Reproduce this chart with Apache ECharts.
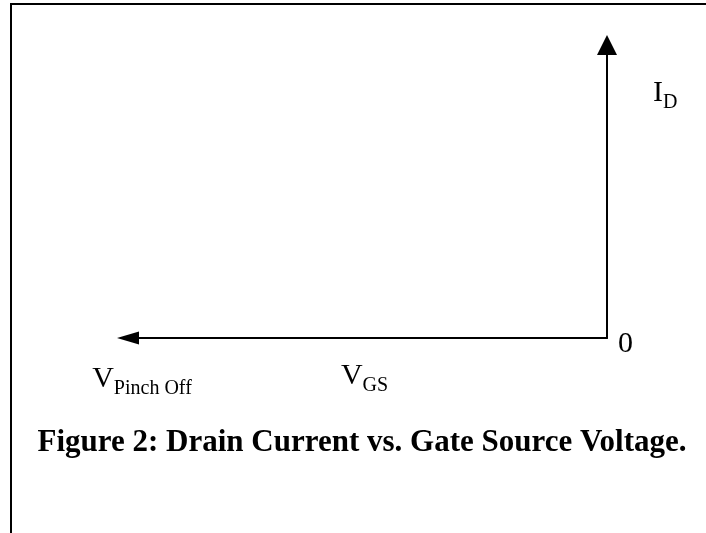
<!DOCTYPE html>
<html>
<head>
<meta charset="utf-8">
<script src="https://cdn.jsdelivr.net/npm/echarts@6/dist/echarts.min.js"></script>
<style>
  html, body { margin: 0; padding: 0; background: #fff; }
  #frame {
    position: absolute; left: 10px; top: 3px; width: 720px; height: 560px;
    border-top: 2px solid #000; border-left: 2px solid #000;
  }
  #main { position: absolute; left: 0; top: 0; width: 706px; height: 533px; }
</style>
</head>
<body>
<div id="frame"></div>
<div id="main"></div>
<script>
// axis extents: gate-source voltage from pinch-off (-1) to 0, drain current 0..1
var vgsRange = [-1, 0];
var idRange = [0, 1];
var xTickLabels = { "-1": "{v|V}{s|Pinch Off}", "0": "" };
var yTickLabels = { "0": "0", "1": "" };
var titleText = "Figure 2: Drain Current vs. Gate Source Voltage.";

var serif = "'Liberation Serif', 'Times New Roman', serif";
// main letter + subscript (top padding pushes the subscript down)
var rich = {
  v: { fontFamily: serif, fontSize: 30, lineHeight: 30, color: "#000" },
  s: { fontFamily: serif, fontSize: 20, lineHeight: 20, padding: [20, 0, 0, 0], color: "#000" }
};

var myChart = echarts.init(document.getElementById("main"));
var option = {
  animation: false,
  title: {
    text: titleText,
    left: 357,
    top: 422,
    textAlign: "center",
    textStyle: { fontFamily: serif, fontSize: 31, fontWeight: "bold", color: "#000" }
  },
  grid: { left: 128, right: 99, top: 45, bottom: 195 },
  xAxis: {
    type: "value",
    min: vgsRange[0],
    max: vgsRange[1],
    interval: 1,
    name: "{v|V}{s|GS}",
    nameLocation: "middle",
    nameGap: 23,
    nameMoveOverlap: false,
    nameTextStyle: { rich: rich, padding: [0, 6, 0, 0] },
    axisLine: {
      show: true,
      onZero: false,
      symbol: ["triangle", "none"],
      symbolSize: [13, 22],
      lineStyle: { color: "#000", width: 2 }
    },
    axisTick: { show: false },
    splitLine: { show: false },
    axisLabel: {
      margin: 26,
      padding: [0, 0, 0, 28],
      formatter: function (v) { return xTickLabels[String(v)]; },
      rich: rich
    }
  },
  yAxis: {
    type: "value",
    position: "right",
    min: idRange[0],
    max: idRange[1],
    interval: 1,
    name: "{v|I}{s|D}",
    nameLocation: "end",
    nameGap: -48,
    nameMoveOverlap: false,
    nameTextStyle: { rich: rich, align: "left", verticalAlign: "middle", padding: [0, 0, 0, 46] },
    axisLine: {
      show: true,
      onZero: false,
      symbol: ["none", "triangle"],
      symbolSize: [20, 20],
      lineStyle: { color: "#000", width: 2 }
    },
    axisTick: { show: false },
    splitLine: { show: false },
    axisLabel: {
      margin: 11,
      verticalAlign: "top",
      lineHeight: 12,
      fontFamily: serif,
      fontSize: 30,
      color: "#000",
      formatter: function (v) { return yTickLabels[String(v)]; }
    }
  },
  series: []
};
myChart.setOption(option);
</script>
</body>
</html>
